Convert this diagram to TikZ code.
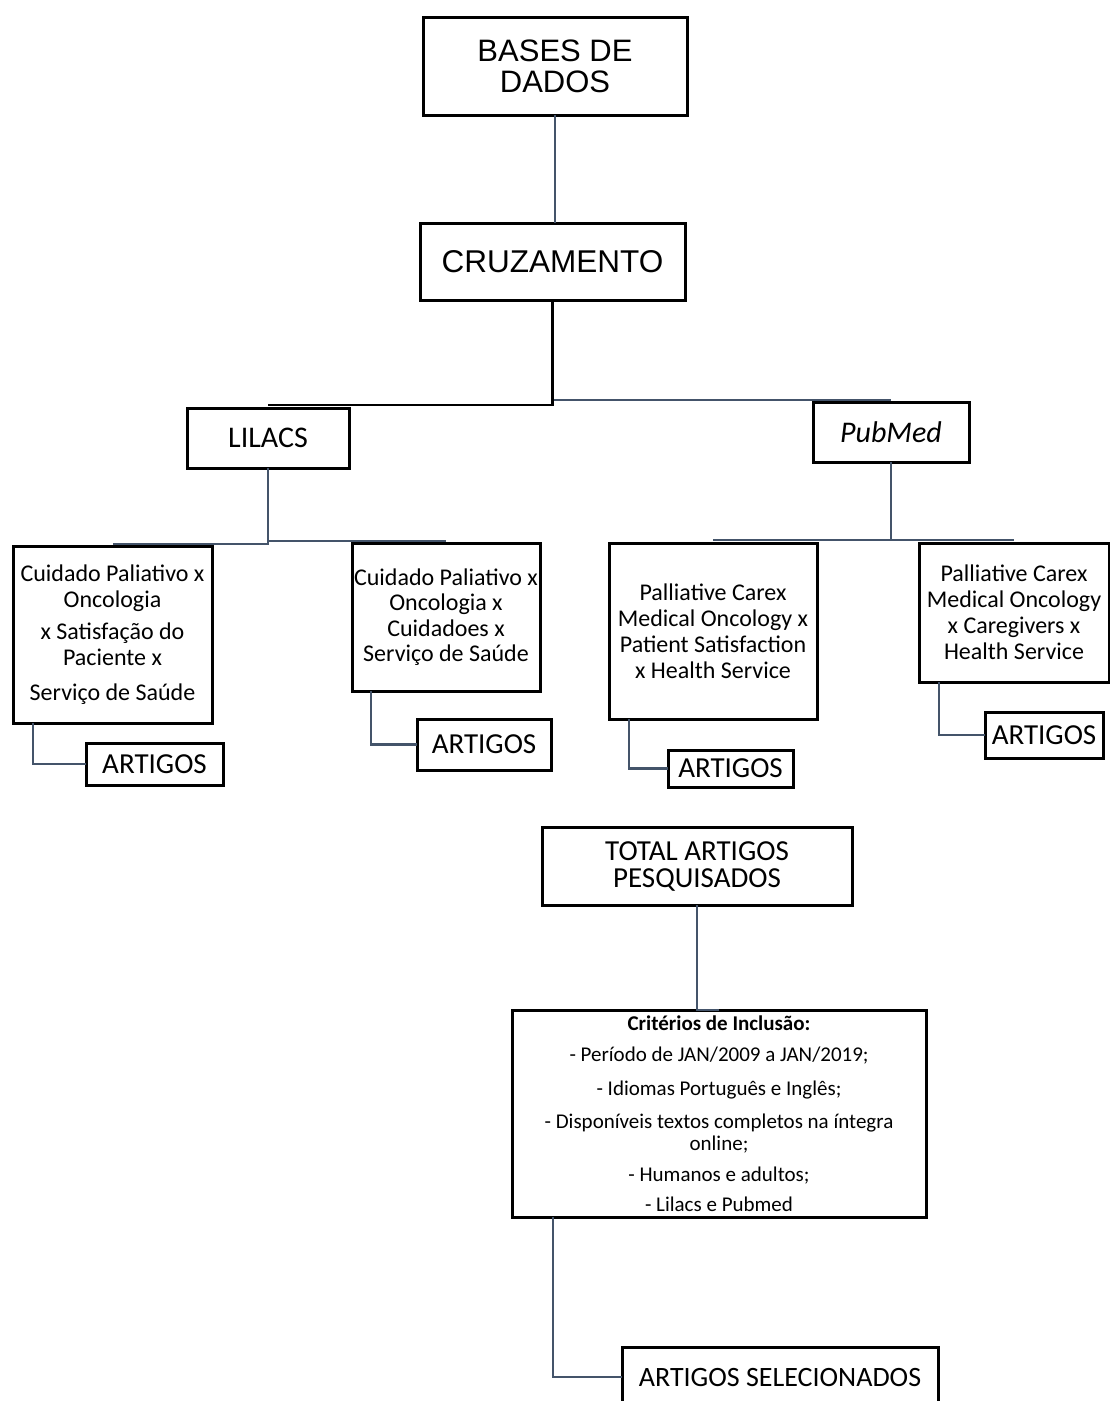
\documentclass[tikz,border=0pt]{standalone}
\usepackage{fontspec}
\setmainfont{Carlito}
\newfontfamily\arialfont{Liberation Sans}
\definecolor{slate}{RGB}{68,84,106}

\begin{document}
\begin{tikzpicture}[x=1pt,y=-1pt,
        box/.style={draw,line width=3pt,inner sep=0pt,outer sep=0pt,align=center},
        link/.style={draw=slate,line width=2.6pt},
        trunk/.style={draw=black,line width=2.6pt}]
        \useasboundingbox (0,0) rectangle (1110,1401);

        \node[box,minimum width=264pt,minimum height=98pt,font=\arialfont\fontsize{31}{31}\selectfont] at (555, 66) (bases) {BASES DE\\DADOS};
        \node[box,minimum width=265pt,minimum height=77pt,font=\arialfont\fontsize{31.5}{32}\selectfont] at (552.5, 261.5) (cruz) {CRUZAMENTO};
        \node[box,minimum width=162pt,minimum height=60pt,font=\fontsize{30}{32}\selectfont] at (268, 438) (lilacs) {LILACS};
        \node[box,minimum width=156pt,minimum height=60pt,font=\itshape\fontsize{30}{32}\selectfont] at (891, 432) (pubmed) {PubMed};

        \node[box,minimum width=199pt,minimum height=177pt,font=\fontsize{24}{26}\selectfont] at (112.5, 634.5) (lil1) {Cuidado Paliativo x\\Oncologia\\[6pt]x Satisfação do\\Paciente x\\[9pt]Serviço de Saúde};
        \node[box,minimum width=188pt,minimum height=148pt,font=\fontsize{24}{25.5}\selectfont] at (446, 617) (lil2) {Cuidado Paliativo x\\Oncologia x\\Cuidadoes x\\Serviço de Saúde};
        \node[box,minimum width=208pt,minimum height=176pt,font=\fontsize{24}{26}\selectfont] at (713, 631) (pub1) {Palliative Carex\\Medical Oncology x\\Patient Satisfaction\\x Health Service};
        \node[box,minimum width=190pt,minimum height=139pt,font=\fontsize{24}{26}\selectfont] at (1014, 612.5) (pub2) {Palliative Carex\\Medical Oncology\\x Caregivers x\\Health Service};

        \node[box,minimum width=137pt,minimum height=42pt,font=\fontsize{29}{30}\selectfont] at (154.5, 764) (art1) {ARTIGOS};
        \node[box,minimum width=134pt,minimum height=51pt,font=\fontsize{29}{30}\selectfont] at (484, 744.5) (art2) {ARTIGOS};
        \node[box,minimum width=125pt,minimum height=37pt,font=\fontsize{29}{30}\selectfont] at (730.5, 768.5) (art3) {ARTIGOS};
        \node[box,minimum width=118pt,minimum height=46pt,font=\fontsize{29}{30}\selectfont] at (1044, 735) (art4) {ARTIGOS};

        \node[box,minimum width=310pt,minimum height=78pt,font=\fontsize{29}{27}\selectfont] at (697, 866) (total) {TOTAL ARTIGOS\\PESQUISADOS};
        \node[box,minimum width=414pt,minimum height=207pt,font=\fontsize{21}{22}\selectfont] at (719, 1113.5) (crit) {\textbf{Critérios de Inclusão:}\\[9pt]- Período de JAN/2009 a JAN/2019;\\[12pt]- Idiomas Português e Inglês;\\[11pt]- Disponíveis textos completos na íntegra\\online;\\[9pt]- Humanos e adultos;\\[8pt]- Lilacs e Pubmed};
        \node[box,minimum width=316pt,minimum height=60pt,font=\fontsize{28}{30}\selectfont] at (780, 1377) (sel) {ARTIGOS SELECIONADOS};

        \draw[link] (bases.south) -- (bases.south |- cruz.north);
        \draw[link] (cruz.south) |- ([yshift=2pt]pubmed.north);
        \draw[trunk] (cruz.south) |- ([yshift=3pt]lilacs.north);
        \draw[link] (lilacs.south) |- ([yshift=2pt]lil1.north);
        \draw[link] (lilacs.south) |- ([yshift=2pt]lil2.north);
        \draw[link] (pubmed.south) |- ([yshift=3pt]pub1.north);
        \draw[link] (pubmed.south) |- ([yshift=3pt]pub2.north);
        \draw[link] ([xshift=20pt]lil1.south west) |- (art1.west);
        \draw[link] ([xshift=19pt]lil2.south west) |- (art2.west);
        \draw[link] ([xshift=20pt]pub1.south west) |- (art3.west);
        \draw[link] ([xshift=20pt]pub2.south west) |- (art4.west);
        \draw[link] (total.south) |- (crit.north);
        \draw[link] ([xshift=41pt]crit.south west) |- (sel.west);
\end{tikzpicture}
\end{document}
